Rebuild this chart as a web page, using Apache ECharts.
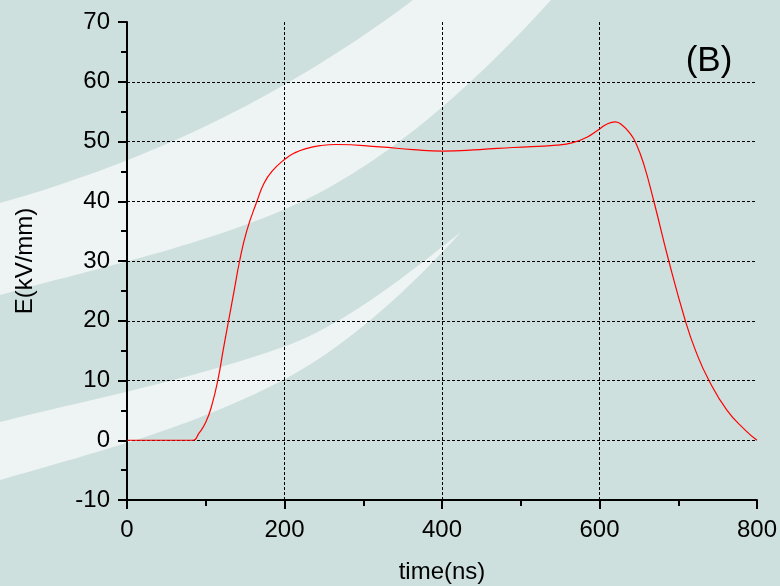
<!DOCTYPE html>
<html>
<head>
<meta charset="utf-8">
<script src="https://cdn.jsdelivr.net/npm/echarts@6/dist/echarts.min.js"></script>
<style>
html,body{margin:0;padding:0;background:#cde0de;}
#chart{width:780px;height:586px;}
</style>
</head>
<body>
<div id="chart"></div>
<script>
// Data
const timeNs = [0, 60, 84, 91, 100, 108, 116, 122, 129, 136, 143, 152, 165, 174, 184, 200, 213, 227, 245, 266, 321, 363, 400, 448, 490, 546, 566, 584, 600, 609, 620, 630, 639, 646, 656, 669, 688, 709, 722, 739, 762, 785, 800];
const fieldE = [0, 0, 0, 1.1, 3.0, 6.0, 10.5, 15, 20, 25, 30, 35, 40, 43, 45, 47, 48.1, 48.8, 49.3, 49.5, 49.1, 48.65, 48.4, 48.65, 49, 49.4, 49.8, 50.7, 52.1, 52.9, 53.3, 52.6, 51.3, 49.8, 46.3, 40, 30, 20, 15, 10, 5.0, 1.7, 0];
const xTicks = [0, 200, 400, 600, 800];
const yTicks = [-10, 0, 10, 20, 30, 40, 50, 60, 70];
const panelLabel = '(B)';
const xName = 'time(ns)';
const yName = 'E(kV/mm)';

const FONT = 'Liberation Sans, Arial, Helvetica, sans-serif';
const points = timeNs.map((t, i) => [t, fieldE[i]]);

// decorative background swooshes (pixel shapes, not data)
function bez(p0, c1, c2, p1, n) {
  const out = [];
  for (let i = 1; i <= n; i++) {
    const t = i / n, u = 1 - t;
    out.push([
      u*u*u*p0[0] + 3*u*u*t*c1[0] + 3*u*t*t*c2[0] + t*t*t*p1[0],
      u*u*u*p0[1] + 3*u*u*t*c1[1] + 3*u*t*t*c2[1] + t*t*t*p1[1]
    ]);
  }
  return out;
}
const swoosh1 = [[-10,206],[0,203]]
  .concat(bez([0,203],[138,164],[275,103.5],[413,0],30))
  .concat([[419,-6],[556,-6],[551,0]])
  .concat(bez([551,0],[461,99],[373,172],[283,210],30))
  .concat(bez([283,210],[189,249.5],[94,268.7],[0,295],30))
  .concat([[-10,298]]);
const swoosh2 = [[-10,424],[0,422]]
  .concat(bez([0,422],[94,398.5],[189,380],[283,347],30))
  .concat(bez([283,347],[342,326],[402,279],[461,232],20))
  .concat(bez([461,232],[402,297],[342,349],[283,380],20))
  .concat(bez([283,380],[189,429],[94,452.7],[0,480],30))
  .concat([[-10,483]]);

const chart = echarts.init(document.getElementById('chart'));
chart.setOption({
  backgroundColor: '#cde0de',
  animation: false,
  graphic: [
    { type: 'polygon', silent: true, z: -10, shape: { points: swoosh1 }, style: { fill: '#eef3f3' } },
    { type: 'polygon', silent: true, z: -10, shape: { points: swoosh2 }, style: { fill: '#eef3f3' } },
    {
      type: 'text', silent: true, z: 10,
      x: 709, y: 61,
      style: { text: panelLabel, font: '35px ' + FONT, fill: '#000', textAlign: 'center', textVerticalAlign: 'middle' }
    }
  ],
  grid: { left: 127, right: 23, top: 22, bottom: 86, containLabel: false, outerBoundsMode: 'none' },
  xAxis: {
    type: 'value', min: xTicks[0], max: xTicks[xTicks.length - 1], interval: 200,
    name: xName, nameLocation: 'middle', nameGap: 60,
    nameTextStyle: { fontFamily: FONT, fontSize: 24, color: '#000' },
    axisLine: { show: true, onZero: false, lineStyle: { color: '#000', width: 2 } },
    axisTick: { show: true, inside: false, length: 9, lineStyle: { color: '#000', width: 2 } },
    minorTick: { show: true, splitNumber: 2, length: 6, lineStyle: { color: '#000', width: 2 } },
    axisLabel: { margin: 18, fontFamily: FONT, fontSize: 24, color: '#000',
      formatter: v => xTicks.includes(v) ? String(v) : '' },
    splitLine: { show: true, showMinLine: false, showMaxLine: false, lineStyle: { color: '#000', width: 1, type: [3, 2] } }
  },
  yAxis: {
    type: 'value', min: yTicks[0], max: yTicks[yTicks.length - 1], interval: 10,
    name: yName, nameLocation: 'middle', nameGap: 90, nameRotate: 90,
    nameTextStyle: { fontFamily: FONT, fontSize: 24, color: '#000' },
    axisLine: { show: true, onZero: false, lineStyle: { color: '#000', width: 2 } },
    axisTick: { show: true, inside: false, length: 9, lineStyle: { color: '#000', width: 2 } },
    minorTick: { show: true, splitNumber: 2, length: 6, lineStyle: { color: '#000', width: 2 } },
    axisLabel: { margin: 17, fontFamily: FONT, fontSize: 24, color: '#000',
      formatter: v => yTicks.includes(v) ? String(v) : '' },
    splitLine: { show: true, showMinLine: false, showMaxLine: false, lineStyle: { color: '#000', width: 1, type: [3, 2] } }
  },
  series: [{
    type: 'line',
    data: points,
    symbol: 'none',
    smooth: 0.5,
    clip: false,
    lineStyle: { color: '#ff0000', width: 1.2 },
    z: 5
  }]
});
</script>
</body>
</html>
